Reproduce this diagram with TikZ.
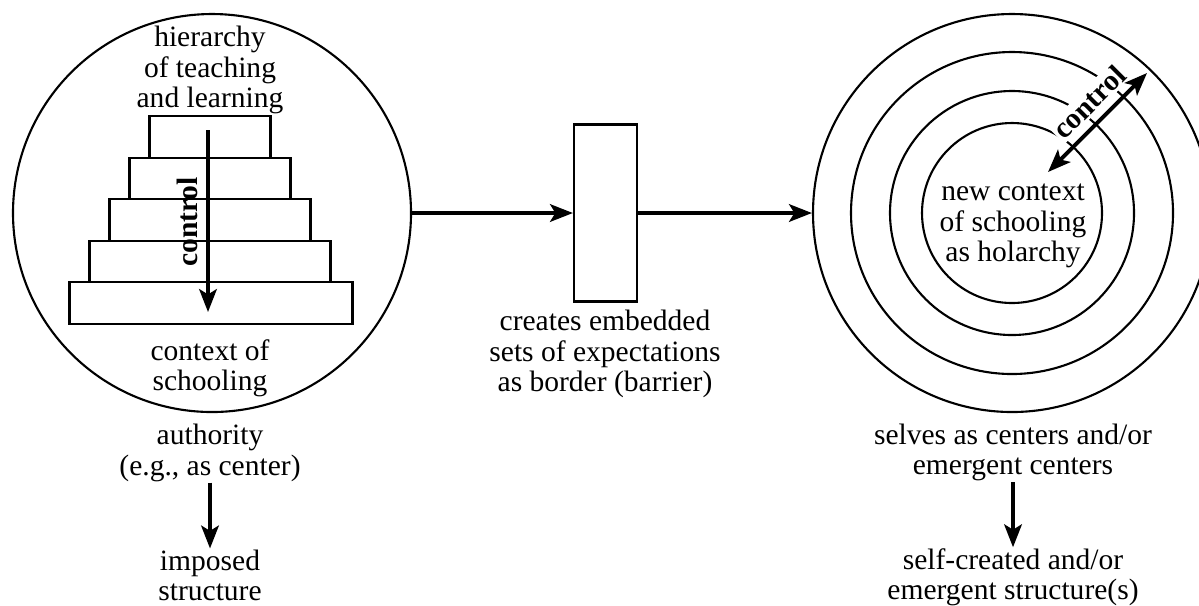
\documentclass[tikz,border=0pt]{standalone}
\usepackage{fontspec}
\setmainfont{Liberation Serif}
\usetikzlibrary{arrows.meta,positioning,calc}

\begin{document}
\begin{tikzpicture}[>={Stealth[length=6.5pt,width=5pt,inset=1.5pt]},line width=0.6pt,
  font=\fontsize{8.4}{8.6}\selectfont,
  ring/.style={draw,circle,inner sep=0pt},
  tier/.style={draw,inner sep=0pt,minimum height=0.416cm},
  txt/.style={align=center,inner sep=0pt},
  flow/.style={->,line width=1.1pt},
  ctl/.style={font=\fontsize{8.4}{8.6}\selectfont\bfseries,inner sep=0.6pt}]
  \useasboundingbox (0,0) rectangle (11.99,-6.05);
  % left: hierarchy inside the context of schooling
  \node[ring,minimum size=3.98cm] (ctx) at (2.12,-2.13) {};
  \node[tier,minimum width=1.21cm] (t1) at (2.10,-1.368) {};
  \node[tier,minimum width=1.61cm] (t2) at (2.10,-1.784) {};
  \node[tier,minimum width=2.01cm] (t3) at (2.10,-2.200) {};
  \node[tier,minimum width=2.41cm] (t4) at (2.10,-2.616) {};
  \node[tier,minimum width=2.83cm] (t5) at (2.11,-3.032) {};
  \coordinate (ctop) at (2.08,-1.30);
  \coordinate (cbot) at (2.08,-3.12);
  \draw[flow] (ctop) -- (cbot);
  \node[ctl,rotate=90] (cdown) at (1.87,-2.22) {control};
  \node[txt] (hier) at (2.10,-0.70) {hierarchy\\of teaching\\and learning};
  \node[txt] (ctxlbl) at (2.10,-3.685) {context of\\schooling};
  \node[txt] (auth) at (2.10,-4.53) {authority\\(e.g., as center)};
  \node[txt] (imposed) at (2.10,-5.75) {imposed\\structure};
  \draw[flow] (auth) -- (imposed);

  % middle: the border
  \node[draw,inner sep=0pt,minimum width=0.63cm,minimum height=1.77cm] (barrier) at (6.055,-2.13) {};
  \node[txt] (expect) at (6.05,-3.54) {creates embedded\\sets of expectations\\as border (barrier)};

  % right: holarchy
  \node[ring,minimum size=3.98cm] (r4) at (10.12,-2.13) {};
  \node[ring,minimum size=3.22cm] (r3) at (10.12,-2.13) {};
  \node[ring,minimum size=2.44cm] (r2) at (10.12,-2.13) {};
  \node[ring,minimum size=1.80cm] (r1) at (10.12,-2.13) {};
  \node[txt] (holarchy) at (10.13,-2.26) {new context\\of schooling\\as holarchy};
  \coordinate (cin) at (10.48,-1.72);
  \coordinate (cout) at (11.47,-0.73);
  \node[ctl,rotate=45,fill=white] (cdiag) at (10.89,-1.02) {control};
  \draw[flow,<->] (cin) -- (cout);
  \node[txt] (selves) at (10.13,-4.525) {selves as centers and/or\\emergent centers};
  \node[txt] (selfmade) at (10.13,-5.77) {self-created and/or\\emergent structure(s)};
  \draw[flow] (selves) -- (selfmade);

  \draw[flow] (ctx) -- (barrier);
  \draw[flow] (barrier) -- (r4);
\end{tikzpicture}
\end{document}
